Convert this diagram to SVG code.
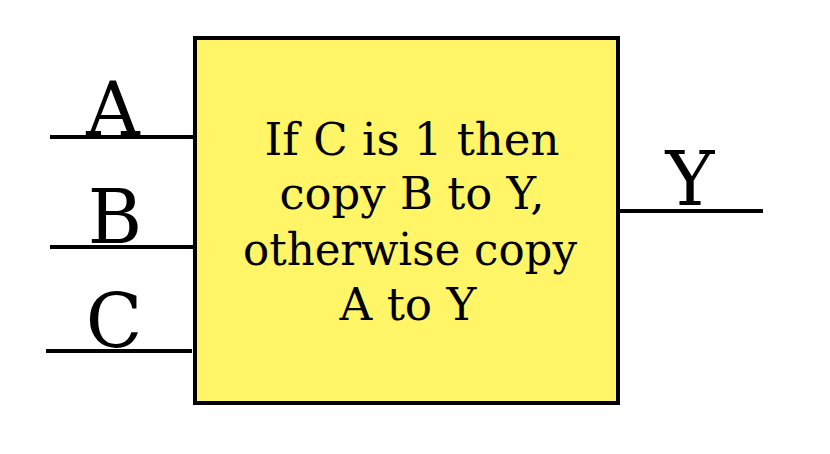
<svg xmlns="http://www.w3.org/2000/svg" width="830" height="454" viewBox="0 0 830 454">
<style>
.wire{stroke:#000;stroke-width:4;fill:none}
.lbl{font-family:"DejaVu Serif","Liberation Serif",serif;font-size:74px;fill:#000;text-anchor:middle}
.body{font-family:"DejaVu Serif","Liberation Serif",serif;font-size:44px;fill:#000;text-anchor:middle}
</style>
<rect width="830" height="454" fill="#fff"/>
<g id="connectors">
<line class="wire" x1="50" y1="137" x2="194" y2="137"/>
<line class="wire" x1="50" y1="247" x2="194" y2="247"/>
<line class="wire" x1="46" y1="351" x2="192" y2="351"/>
<line class="wire" x1="618" y1="211" x2="763" y2="211"/>
</g>
<g id="mux">
<rect x="195" y="38" width="423" height="365" fill="#FFF566" stroke="#000" stroke-width="4"/>
<text class="body" x="412" y="155" textLength="295" lengthAdjust="spacingAndGlyphs">If C is 1 then</text>
<text class="body" x="412" y="209" textLength="265" lengthAdjust="spacingAndGlyphs">copy B to Y,</text>
<text class="body" x="410" y="265" textLength="334" lengthAdjust="spacingAndGlyphs">otherwise copy</text>
<text class="body" x="408" y="320" textLength="137" lengthAdjust="spacingAndGlyphs">A to Y</text>
</g>
<g id="labelA"><text class="lbl" x="113" y="135">A</text></g>
<g id="labelB"><text class="lbl" x="115" y="243">B</text></g>
<g id="labelC"><text class="lbl" x="114" y="347">C</text></g>
<g id="labelY"><text class="lbl" x="690" y="205">Y</text></g>
</svg>
